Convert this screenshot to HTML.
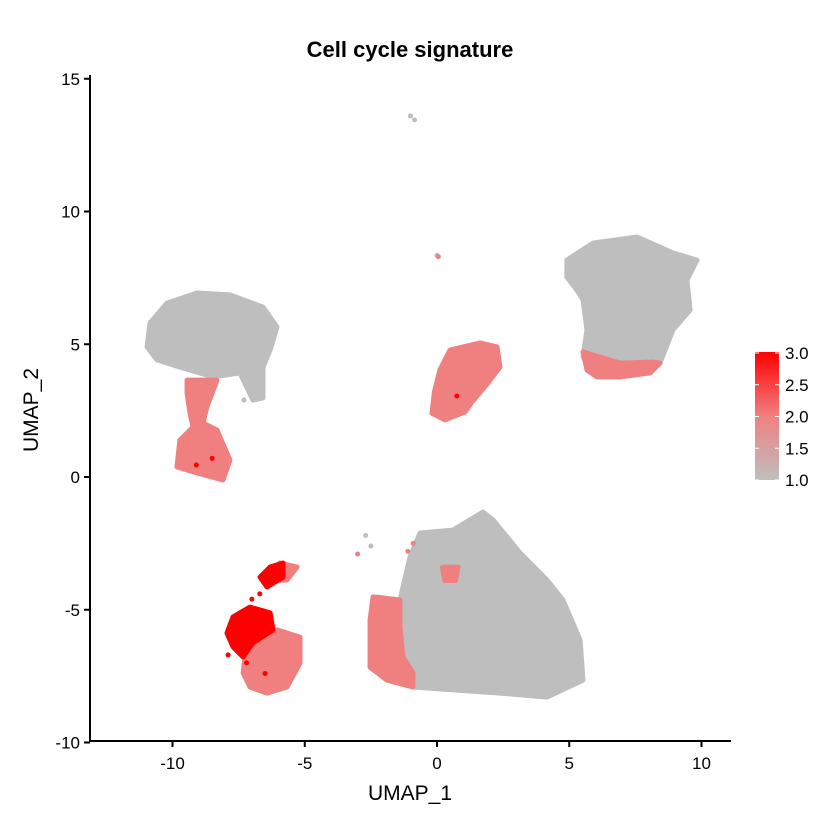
<!DOCTYPE html>
<html><head><meta charset="utf-8"><style>
body{margin:0;background:#fff}
svg{display:block;font-family:"Liberation Sans",Arial,sans-serif}
</style></head><body>
<svg id="chart" width="840" height="840" viewBox="0 0 840 840">
<text x="410" y="57" text-anchor="middle" font-size="22" font-weight="bold">Cell cycle signature</text>
<g id="plot"></g>
<g id="axes"></g>
<text x="410" y="800" text-anchor="middle" font-size="21">UMAP_1</text>
<text transform="translate(38,410) rotate(-90)" text-anchor="middle" font-size="21">UMAP_2</text>
<defs><linearGradient id="cg" x1="0" y1="1" x2="0" y2="0"><stop offset="0" stop-color="#bebebe"/><stop offset="0.5" stop-color="#f08080"/><stop offset="1" stop-color="#ff0000"/></linearGradient></defs>
<g>
<rect x="755" y="352" width="24" height="128" fill="url(#cg)"/>
<g id="leg"></g>
</g>
</svg>
<script>
const xTicks=[-10,-5,0,5,10];
const yTicks=[-10,-5,0,5,10,15];
const legendTicks=[1.0,1.5,2.0,2.5,3.0];
const grayTopLeft=[[-10.96,4.9],[-10.85,5.8],[-10.21,6.55],[-9.07,6.93],[-7.83,6.86],[-6.58,6.4],[-6.05,5.65],[-6.31,4.78],[-6.58,4.14],[-6.58,2.98],[-6.96,2.9],[-7.45,3.92],[-8.47,3.77],[-9.72,4.14],[-10.59,4.41]];
const pinkStem=[[-9.45,3.65],[-8.32,3.65],[-8.7,2.64],[-8.85,2.03],[-8.32,1.77],[-7.83,0.64],[-8.09,-0.11],[-9.07,0.15],[-9.83,0.38],[-9.72,1.39],[-9.22,1.88],[-9.34,2.41],[-9.45,3.16]];
const pinkCenter=[[0.49,4.78],[1.63,5.05],[2.27,4.9],[2.38,4.14],[1.89,3.5],[1.3,2.8],[1.06,2.45],[0.3,2.15],[-0.19,2.4],[-0.1,3.2],[0.11,4.03]];
const grayRight=[[4.91,8.17],[5.9,8.81],[7.56,9.04],[8.92,8.44],[9.83,8.17],[9.45,7.42],[9.57,6.29],[8.92,5.54],[8.43,4.29],[8.05,3.92],[6.92,3.77],[6.05,3.77],[5.52,4.52],[5.67,5.54],[5.52,6.67],[5.29,7.04],[4.91,7.53]];
const pinkRight=[[5.52,4.71],[6.16,4.52],[6.92,4.29],[8.17,4.33],[8.43,4.29],[8.05,3.92],[6.92,3.77],[6.05,3.77],[5.67,4.03]];
const pinkBottomLeft=[[-7.33,-7.38],[-7.18,-6.14],[-6.05,-5.76],[-5.18,-6.03],[-5.18,-7.01],[-5.67,-7.91],[-6.43,-8.14],[-7.07,-7.91]];
const redMass=[[-7.94,-5.88],[-7.71,-5.27],[-7.07,-4.9],[-6.31,-5.12],[-6.2,-5.76],[-6.96,-6.25],[-7.33,-6.78],[-7.71,-6.4]];
const pinkHookTop=[[-5.94,-3.24],[-5.29,-3.39],[-5.67,-3.88],[-6.2,-3.9]];
const redHookTop=[[-6.69,-3.77],[-6.31,-3.39],[-5.82,-3.24],[-5.82,-3.77],[-6.43,-4.14]];
const grayBig=[[1.74,-1.32],[0.6,-2.0],[-0.64,-2.11],[-1.02,-3.01],[-1.4,-4.63],[-2.27,-4.52],[-2.53,-5.39],[-2.53,-7.16],[-1.89,-7.65],[-0.91,-7.91],[0.6,-8.02],[2.38,-8.14],[4.16,-8.29],[5.52,-7.65],[5.41,-6.14],[4.76,-4.63],[4.16,-3.88],[3.14,-2.86],[2.12,-1.62]];
const pinkBig=[[-2.42,-4.52],[-1.4,-4.63],[-1.4,-5.65],[-1.29,-6.78],[-0.91,-7.38],[-0.91,-7.91],[-1.89,-7.65],[-2.53,-7.16],[-2.53,-5.39]];
const pinkSpot=[[0.2,-3.4],[0.8,-3.4],[0.7,-3.9],[0.3,-3.9]];
const grayBits=[[-2.7,-2.2],[-2.5,-2.6],[-1.0,13.6],[-0.85,13.45],[0.0,8.35],[-7.3,2.9]];
const pinkBits=[[-3.0,-2.9],[0.05,8.3],[-1.1,-2.8],[-0.9,-2.5]];
const redBits=[[-7.9,-6.7],[-7.2,-7.0],[-6.7,-4.4],[-7.0,-4.6],[-6.5,-7.4],[-9.1,0.45],[-8.5,0.7],[0.75,3.05]];

const X=v=>437+v*26.45, Y=v=>477-v*26.55;
const NS='http://www.w3.org/2000/svg';
const plot=document.getElementById('plot'), axes=document.getElementById('axes'), leg=document.getElementById('leg');
function mk(t,a,p){const e=document.createElementNS(NS,t);for(const k in a)e.setAttribute(k,a[k]);p.appendChild(e);return e;}
function blob(pts,col,name){
  const e=mk('polygon',{points:pts.map(p=>X(p[0])+','+Y(p[1])).join(' '),fill:col,stroke:col,'stroke-width':5,'stroke-linejoin':'round'},plot);
  
  
}
function dots(pts,col,name){pts.forEach(p=>{const c=mk('circle',{cx:X(p[0]),cy:Y(p[1]),r:2.5,fill:col},plot);
  
  });}
const G='#bebebe',P='#f08080',R='#ff0000';
blob(grayTopLeft,G,'cluster-top-left');
blob(pinkStem,P,'cluster-left-stem');
blob(pinkCenter,P,'cluster-center');
blob(grayRight,G,'cluster-right');
blob(pinkRight,P,'cluster-right-cycling');
blob(pinkBottomLeft,P,'cluster-bottom-left');
blob(pinkHookTop,P,'cluster-hook-top');
blob(redMass,R,'cluster-high-score');
blob(redHookTop,R,'cluster-hook-high');
blob(grayBig,G,'cluster-bottom-right');
blob(pinkBig,P,'cluster-bottom-right-cycling');
blob(pinkSpot,P,'spot-cycling');
dots(grayBits,G,'cell-point');dots(pinkBits,P,'cell-point');dots(redBits,R,'cell-point');

mk('line',{x1:90,y1:75,x2:90,y2:742,stroke:'#000','stroke-width':2},axes);
mk('line',{x1:89,y1:741,x2:731,y2:741,stroke:'#000','stroke-width':2},axes);
xTicks.forEach(v=>{mk('line',{x1:X(v),y1:741,x2:X(v),y2:747,stroke:'#000','stroke-width':2},axes);
  const t=mk('text',{x:X(v),y:769,'text-anchor':'middle','font-size':17},axes);t.textContent=v;
  
  });
yTicks.forEach(v=>{mk('line',{x1:84,y1:Y(v),x2:90,y2:Y(v),stroke:'#000','stroke-width':2},axes);
  const t=mk('text',{x:80,y:Y(v)+6,'text-anchor':'end','font-size':17},axes);t.textContent=v;
  
  });
legendTicks.forEach(v=>{const y=480-(v-1)/2*127;
  mk('line',{x1:755,y1:y,x2:759,y2:y,stroke:'#fff','stroke-width':1},leg);
  mk('line',{x1:775,y1:y,x2:779,y2:y,stroke:'#fff','stroke-width':1},leg);
  const t=mk('text',{x:785,y:y+6,'font-size':17},leg);t.textContent=v.toFixed(1);
  
  });
</script>
</body></html>
